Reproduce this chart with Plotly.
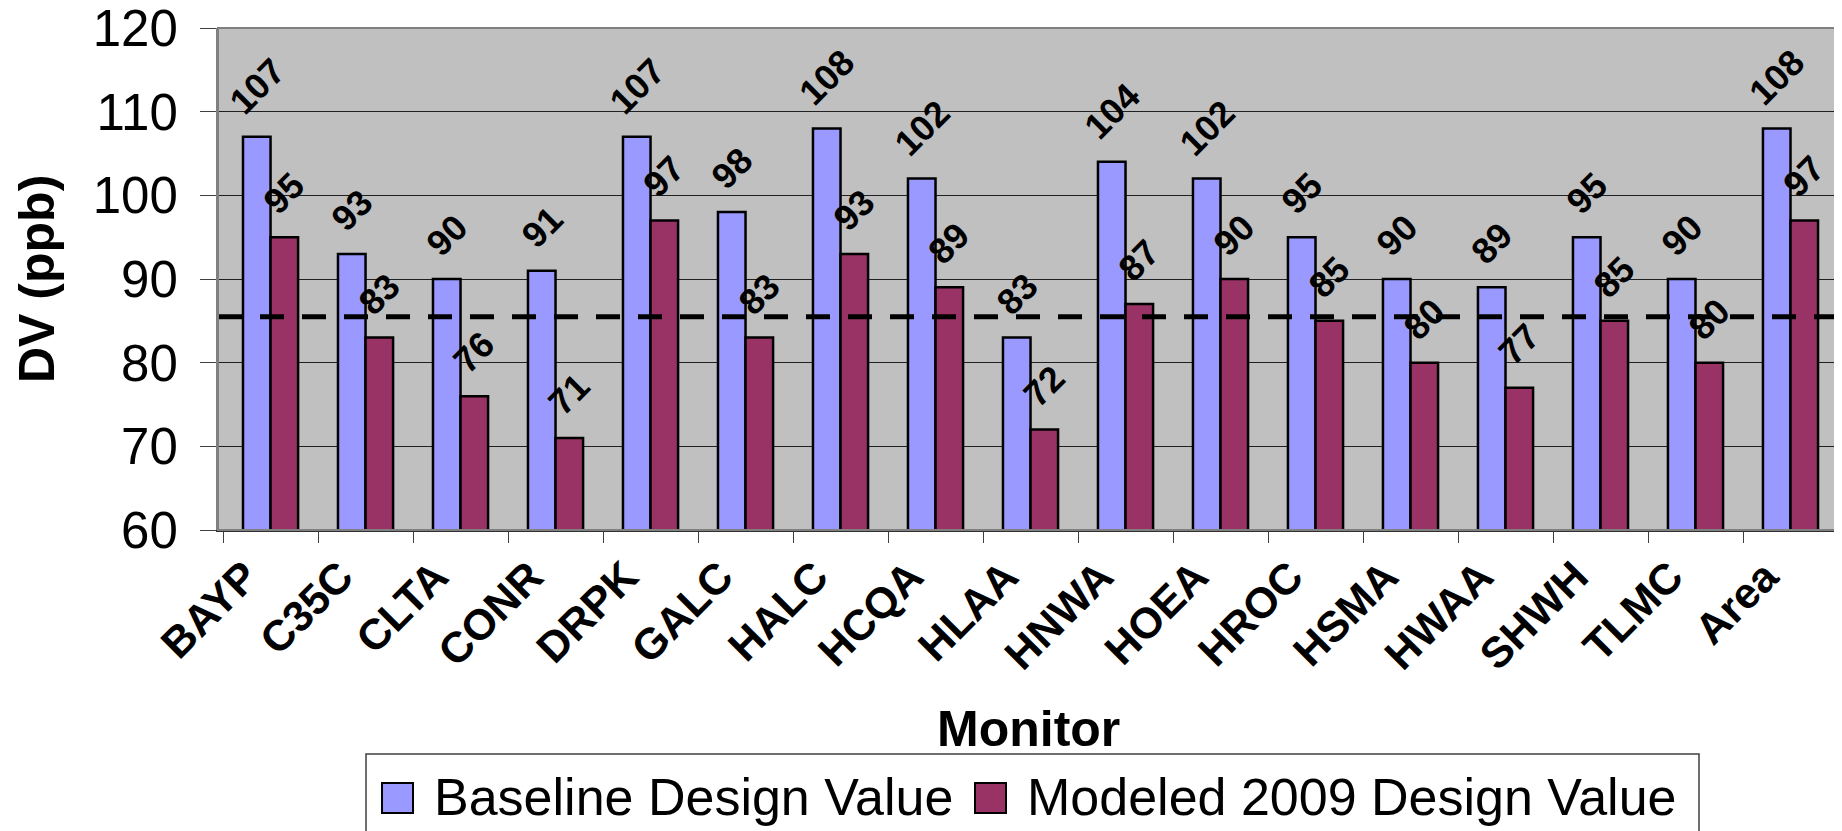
import plotly.graph_objects as go

# monitor sites and design values (ppb)
monitors = ['BAYP', 'C35C', 'CLTA', 'CONR', 'DRPK', 'GALC', 'HALC', 'HCQA', 'HLAA',
            'HNWA', 'HOEA', 'HROC', 'HSMA', 'HWAA', 'SHWH', 'TLMC', 'Area']
baseline = [107, 93, 90, 91, 107, 98, 108, 102, 83, 104, 102, 95, 90, 89, 95, 90, 108]
modeled = [95, 83, 76, 71, 97, 83, 93, 89, 72, 87, 90, 85, 80, 77, 85, 80, 97]
standard = 85.5
series_names = ['Baseline Design Value', 'Modeled 2009 Design Value']
colors = ['#9999FF', '#993366']

FONT = 'Liberation Sans, Arial, sans-serif'
# page body has an 8px margin, so the figure is a bit smaller than the window
W, H = 1834, 823
L, R, T, B = 210, 4, 20, 301
PW, PH = W - L - R, H - T - B
X0, Y1 = 218, 530   # plot area left / bottom on the page


def px(x):
    return (x - X0) / PW


def py(y):
    return (Y1 - y) / PH


fig = go.Figure()
for name, vals, col in zip(series_names, [baseline, modeled], colors):
    fig.add_trace(go.Bar(x=monitors, y=vals, name=name, marker_color=col,
                         marker_line=dict(color='black', width=2.5)))

# rotated value labels above each bar
annotations = []
for k, vals in enumerate([baseline, modeled]):
    shift = -14 if k == 0 else 13
    for m, v in zip(monitors, vals):
        annotations.append(dict(x=m, y=v, text='<b>%d</b>' % v, showarrow=False,
                                textangle=-45, xanchor='center', yanchor='bottom',
                                xshift=shift, yshift=12,
                                font=dict(family=FONT, size=36, color='black')))

# axis titles
annotations.append(dict(xref='paper', yref='paper', x=px(37), y=0.5, text='<b>DV (ppb)</b>',
                        textangle=-90, showarrow=False, xanchor='center', yanchor='middle',
                        font=dict(family=FONT, size=50, color='black')))
annotations.append(dict(xref='paper', yref='paper', x=px(1028), y=py(729), text='<b>Monitor</b>',
                        showarrow=False, xanchor='center', yanchor='middle',
                        font=dict(family=FONT, size=50, color='black')))

# legend drawn by hand (big swatches like the original)
shapes = [
    dict(type='line', xref='paper', yref='y', x0=0, x1=1, y0=standard, y1=standard,
         line=dict(color='black', width=5, dash='24px,18px'), layer='above'),
    dict(type='rect', xref='paper', yref='paper', x0=0, x1=1, y0=0, y1=1,
         line=dict(color='#808080', width=2), layer='above'),
    dict(type='rect', xref='paper', yref='paper', x0=px(366), x1=px(1699), y0=py(754), y1=py(840),
         line=dict(color='#404040', width=1.5), fillcolor='white', layer='above'),
]
legend_items = [(382, 432), (975, 1025)]
for (sx, tx), name, col in zip(legend_items, series_names, colors):
    shapes.append(dict(type='rect', xref='paper', yref='paper', x0=px(sx), x1=px(sx + 31),
                       y0=py(813), y1=py(783), fillcolor=col,
                       line=dict(color='black', width=2), layer='above'))
    annotations.append(dict(xref='paper', yref='paper', x=px(tx), y=py(797), text=name,
                            showarrow=False, xanchor='left', yanchor='middle',
                            font=dict(family=FONT, size=52, color='black')))

fig.update_layout(
    width=W, height=H,
    margin=dict(l=L, r=R, t=T, b=B),
    paper_bgcolor='white', plot_bgcolor='#C0C0C0',
    barmode='group', bargap=0.42, bargroupgap=0,
    showlegend=False,
    font=dict(family=FONT, color='black'),
    shapes=shapes, annotations=annotations,
)
fig.update_yaxes(range=[60, 120], dtick=10, showgrid=True, gridcolor='#202020', gridwidth=1,
                 showline=True, linecolor='#808080', linewidth=2, automargin=False,
                 ticks='outside', ticklen=16, tickcolor='#404040', ticklabelstandoff=12,
                 ticklabeloverflow='allow', tickfont=dict(family=FONT, size=51))
fig.update_xaxes(type='category', tickson='boundaries', ticks='outside', ticklen=11,
                 tickcolor='#404040', showline=True, linecolor='#303030', linewidth=2,
                 automargin=False, tickangle=-45, tickfont=dict(family=FONT, size=43),
                 tickvals=monitors, ticktext=['<b>%s</b>' % m for m in monitors],
                 ticklabelstandoff=2, ticklabelshift=-25)

fig.write_html('out.html')
